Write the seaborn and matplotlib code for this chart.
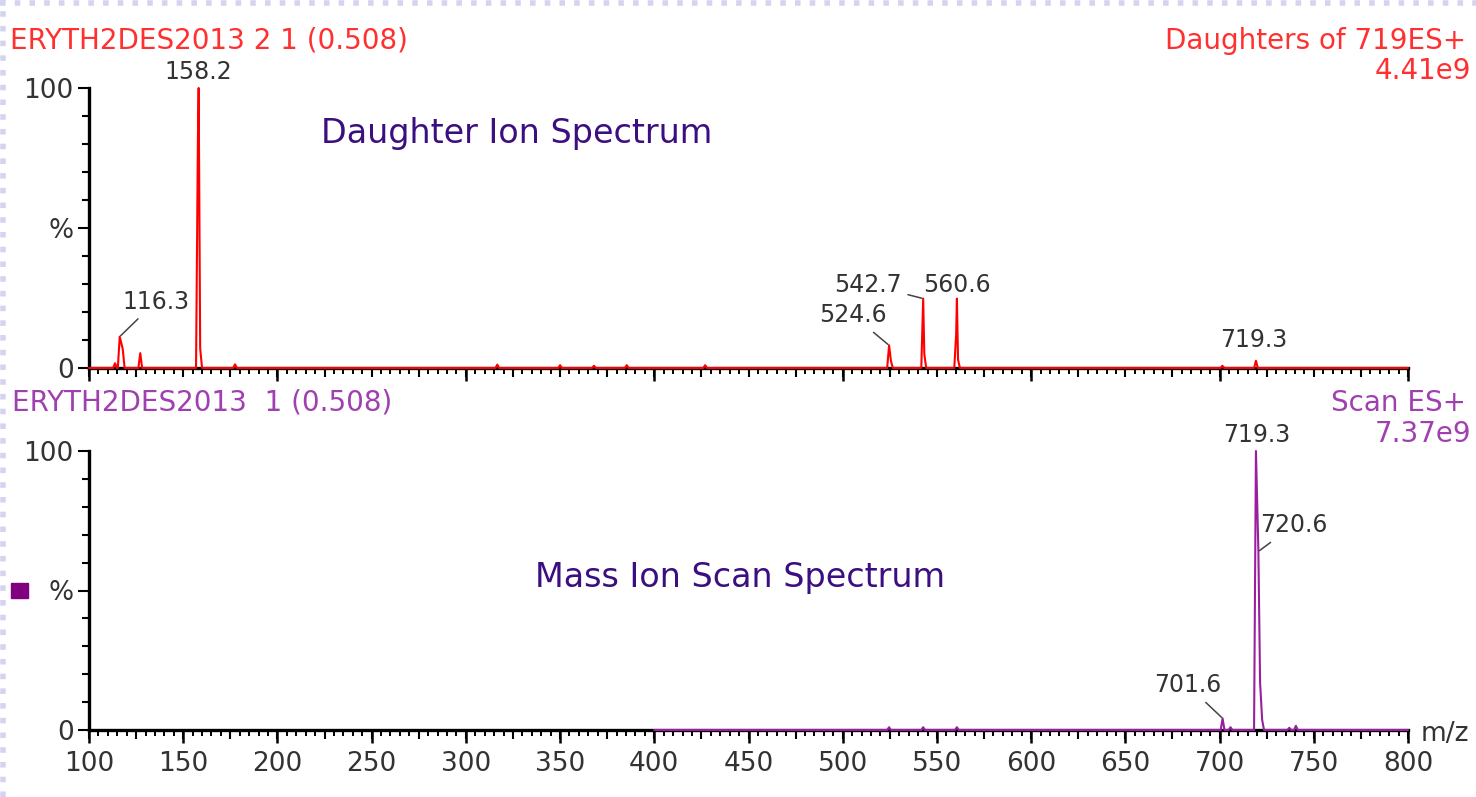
import numpy as np
import matplotlib
matplotlib.use("Agg")
import matplotlib.pyplot as plt
import seaborn as sns
from matplotlib.ticker import MultipleLocator, FixedLocator
from matplotlib.lines import Line2D
from matplotlib.patches import Rectangle

# ---------------- data ----------------
mz_min, mz_max = 100, 800

# Daughter ion spectrum (top): m/z and relative intensity (%)
daughter_mz = [113.8, 116.3, 117.9, 127.2, 157.8, 158.2, 159.0, 177.5, 316.7, 350.0,
               368.0, 385.4, 427.0, 524.6, 525.6, 542.7, 543.3, 560.2, 560.6, 561.2,
               701.5, 719.3]
daughter_pct = [1.7, 11.2, 6.8, 5.3, 82.0, 100.0, 7.0, 1.3, 1.2, 1.0,
                0.8, 1.0, 1.0, 8.1, 2.5, 24.8, 5.0, 12.0, 24.8, 3.0,
                0.8, 2.6]
daughter_start = 100
daughter_labels = [116.3, 158.2, 524.6, 542.7, 560.6, 719.3]

# Mass ion scan spectrum (bottom)
scan_mz = [524.6, 542.7, 560.6, 701.6, 705.8, 719.3, 720.6, 721.5, 722.6, 737.0, 740.5]
scan_pct = [1.0, 1.0, 1.0, 4.2, 1.0, 100.0, 64.0, 17.0, 3.6, 0.8, 1.5]
scan_start = 400
scan_labels = [701.6, 719.3, 720.6]

# header texts
top_left_title = "ERYTH2DES2013 2 1 (0.508)"
top_right_title = "Daughters of 719ES+"
top_scale = "4.41e9"
bot_left_title = "ERYTH2DES2013  1 (0.508)"
bot_right_title = "Scan ES+"
bot_scale = "7.37e9"
top_note = "Daughter Ion Spectrum"
bot_note = "Mass Ion Scan Spectrum"

y_ticks = [0, 50, 100]
y_ticklabels = ["0", "%", "100"]
x_ticks = list(range(100, 801, 50))

# ---------------- layout / style ----------------
RED = "#ff0000"
RED_TXT = "#ff3030"
PURPLE = "#9a1fa0"
PURPLE_TXT = "#a040b0"
NOTE = "#3b0f80"
GREY = "#333333"
HALF_WIDTH = 1.0

# label offsets (pixels) from peak tops, and whether a leader line is drawn
label_offsets = {
    ("top", 116.3): (36, 35, True),
    ("top", 158.2): (0, 16, False),
    ("top", 524.6): (-36, 30, True),
    ("top", 542.7): (-55, 14, True),
    ("top", 560.6): (0, 14, False),
    ("top", 719.3): (-2, 21, False),
    ("bot", 701.6): (-35, 33, True),
    ("bot", 719.3): (1, 16, False),
    ("bot", 720.6): (35, 26, True),
}

sns.set_theme(style="white")
plt.rcParams["font.family"] = ["DejaVu Sans"]

W, H = 1476, 797
fig = plt.figure(figsize=(W / 100, H / 100), dpi=100)
fig.patch.set_facecolor("white")


def rect(x0, x1, ytop, ybot):
    return [x0 / W, 1 - ybot / H, (x1 - x0) / W, (ybot - ytop) / H]


ax1 = fig.add_axes(rect(89, 1408, 88, 368))
ax2 = fig.add_axes(rect(89, 1408, 451, 730))


def profile(mz, pct, start, end, w):
    """Stick-spectrum outline: neighbouring peaks closer than 2w are joined top to top."""
    order = np.argsort(mz)
    mz = np.asarray(mz, float)[order]
    pct = np.asarray(pct, float)[order]
    xs, ys = [start], [0.0]
    for i, (p, h) in enumerate(zip(mz, pct)):
        if i == 0 or p - mz[i - 1] > 2 * w:
            xs.append(p - w)
            ys.append(0.0)
        xs.append(p)
        ys.append(h)
        if i == len(mz) - 1 or mz[i + 1] - p > 2 * w:
            xs.append(p + w)
            ys.append(0.0)
    xs.append(end)
    ys.append(0.0)
    return np.array(xs), np.array(ys)


def style_axis(ax, major_x, show_xlabels):
    ax.set_xlim(mz_min, mz_max)
    ax.set_ylim(0, 100)
    ax.set_facecolor("none")
    for s in ("top", "right"):
        ax.spines[s].set_visible(False)
    for s in ("left", "bottom"):
        ax.spines[s].set_color("black")
        ax.spines[s].set_linewidth(2.4)
    ax.yaxis.set_major_locator(FixedLocator(y_ticks))
    ax.set_yticklabels(y_ticklabels)
    ax.yaxis.set_minor_locator(MultipleLocator(10))
    ax.tick_params(axis="y", which="major", direction="out", length=8, width=1.5,
                   color="black", labelsize=19, labelcolor=GREY, pad=3, left=True)
    ax.tick_params(axis="y", which="minor", direction="out", length=5, width=1.5,
                   color="black", left=True)
    ax.xaxis.set_major_locator(MultipleLocator(major_x))
    ax.xaxis.set_minor_locator(MultipleLocator(5))
    ax.tick_params(axis="x", which="major", direction="out", length=9, width=1.8,
                   color="black", labelsize=19, labelcolor=GREY, pad=6,
                   bottom=True, labelbottom=show_xlabels)
    ax.tick_params(axis="x", which="minor", direction="out", length=4, width=1.4,
                   color="black", bottom=True)
    sec = ax.secondary_xaxis("bottom")
    sec.xaxis.set_major_locator(MultipleLocator(25))
    sec.tick_params(axis="x", direction="out", length=6.5, width=1.5, color="black",
                    labelbottom=False)
    sec.spines["bottom"].set_visible(False)
    ax.set_xlabel("")
    ax.set_ylabel("")
    ax.grid(False)


style_axis(ax1, 100, False)
style_axis(ax2, 50, True)
ax2.set_xticks(x_ticks)
ax2.set_xticklabels([str(v) for v in x_ticks])

# spectra
x1, y1 = profile(daughter_mz, daughter_pct, daughter_start, mz_max, HALF_WIDTH)
sns.lineplot(x=x1, y=y1, ax=ax1, color=RED, linewidth=1.5, estimator=None, sort=False)
x2, y2 = profile(scan_mz, scan_pct, scan_start, mz_max, HALF_WIDTH)
sns.lineplot(x=x2, y=y2, ax=ax2, color=PURPLE, linewidth=1.5, estimator=None, sort=False)
for ax in (ax1, ax2):
    for ln in ax.lines:
        ln.set_clip_on(False)
        ln.set_zorder(5)


def add_labels(ax, key, mzs, pcts, labels):
    for v in labels:
        h = pcts[mzs.index(v)]
        dx, dy, lead = label_offsets[(key, v)]
        kw = {}
        if lead:
            kw["arrowprops"] = dict(arrowstyle="-", color="#444444", lw=1.1,
                                    shrinkA=2, shrinkB=1)
        ax.annotate(f"{v:.1f}", xy=(v, h), xytext=(dx, dy), textcoords="offset pixels",
                    ha="center", va="center", fontsize=17, color=GREY,
                    annotation_clip=False, zorder=6, **kw)


add_labels(ax1, "top", daughter_mz, daughter_pct, daughter_labels)
add_labels(ax2, "bot", scan_mz, scan_pct, scan_labels)

# headers
fig.text(10 / W, 1 - 40 / H, top_left_title, ha="left", va="center", fontsize=20, color=RED_TXT)
fig.text(1466 / W, 1 - 41 / H, top_right_title, ha="right", va="center", fontsize=20, color=RED_TXT)
fig.text(1471 / W, 1 - 71 / H, top_scale, ha="right", va="center", fontsize=20, color=RED_TXT)
fig.text(12 / W, 1 - 403 / H, bot_left_title, ha="left", va="center", fontsize=20, color=PURPLE_TXT)
fig.text(1466 / W, 1 - 403 / H, bot_right_title, ha="right", va="center", fontsize=20, color=PURPLE_TXT)
fig.text(1471 / W, 1 - 434 / H, bot_scale, ha="right", va="center", fontsize=20, color=PURPLE_TXT)

fig.text(517 / W, 1 - 133 / H, top_note, ha="center", va="center", fontsize=24, color=NOTE)
fig.text(740 / W, 1 - 578 / H, bot_note, ha="center", va="center", fontsize=24, color=NOTE)

fig.text(1421 / W, 1 - 734 / H, "m/z", ha="left", va="center", fontsize=19, color=GREY)

# slide decorations: dotted border and marker square
fig.add_artist(Line2D([0, 1], [1 - 3 / H, 1 - 3 / H], transform=fig.transFigure,
                      color="#d4d4f0", lw=4, ls=":"))
fig.add_artist(Line2D([3 / W, 3 / W], [0, 1], transform=fig.transFigure,
                      color="#d4d4f0", lw=4, ls=":"))
fig.add_artist(Rectangle((11 / W, 1 - 598 / H), 17 / W, 15 / H, transform=fig.transFigure,
                         color="#800080"))

fig.savefig("out.png", dpi=100)
